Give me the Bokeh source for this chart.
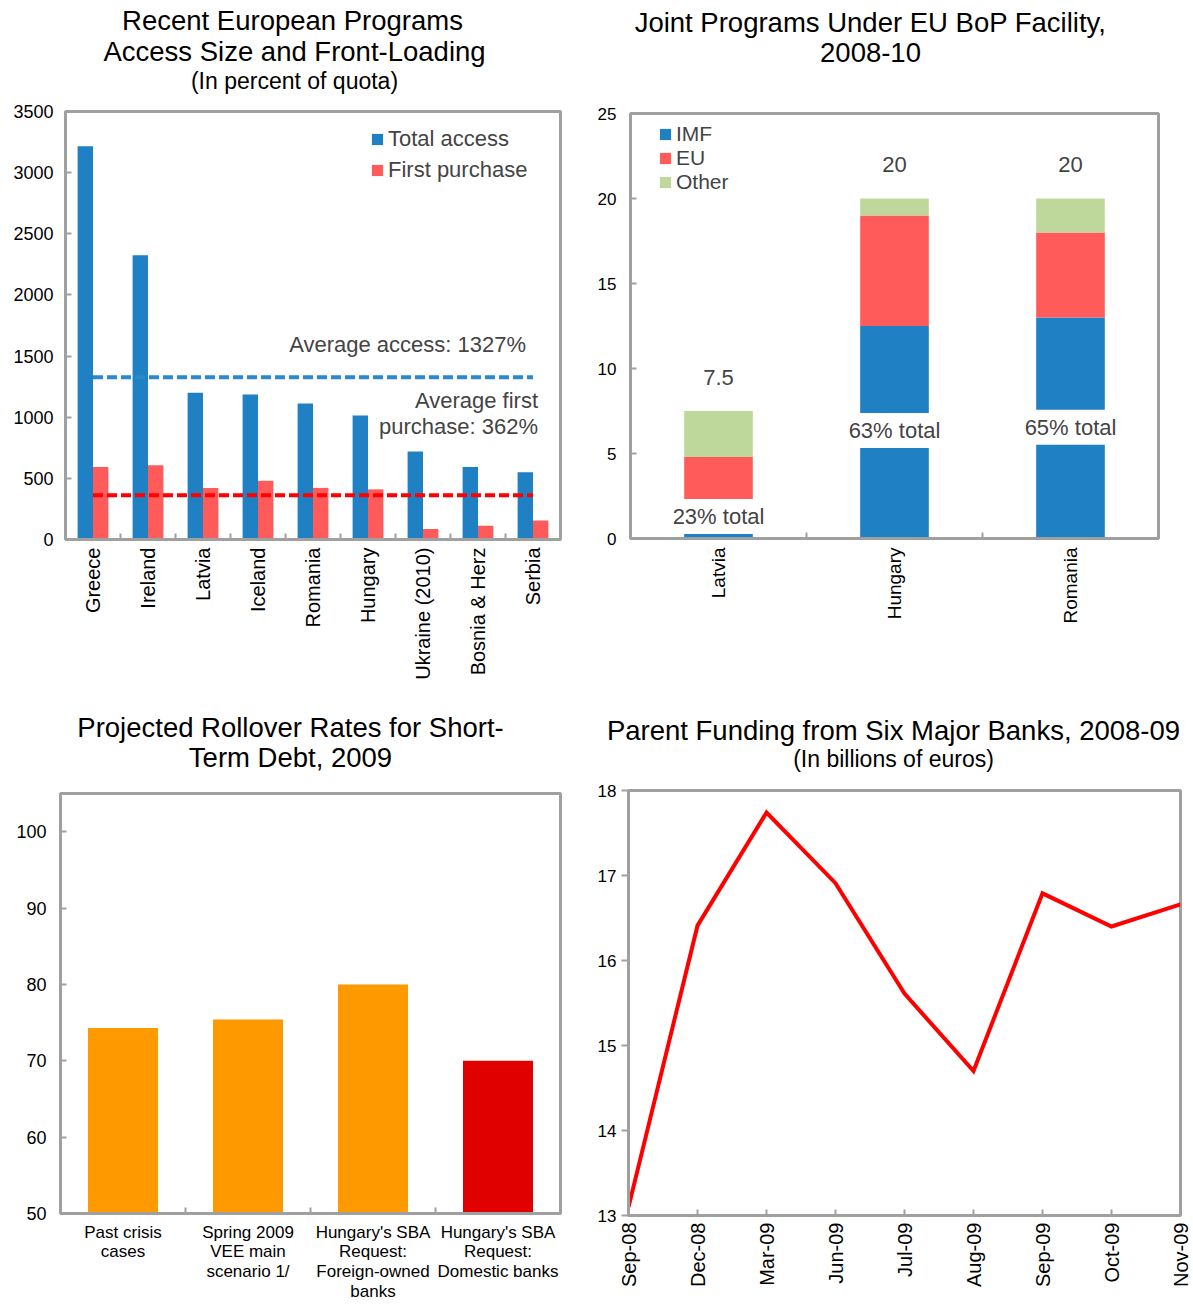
import math
import numpy as np
from bokeh.plotting import figure
from bokeh.models import (Range1d, FixedTicker, Label, LabelSet, Legend, LegendItem,
                          ColumnDataSource)
from bokeh.core.properties import value
from bokeh.transform import dodge
from bokeh.layouts import row, column
from bokeh.embed import file_html
from bokeh.resources import INLINE

# ---------------- data ----------------
# Chart 1: Recent European Programs (percent of quota)
c1_countries = ["Greece", "Ireland", "Latvia", "Iceland", "Romania", "Hungary",
                "Ukraine (2010)", "Bosnia & Herz", "Serbia"]
c1_total = [3215, 2325, 1200, 1185, 1112, 1015, 720, 593, 550]
c1_first = [592, 607, 422, 480, 422, 410, 85, 112, 155]
c1_avg_total = 1327
c1_avg_first = 362
c1_yticks = [0, 500, 1000, 1500, 2000, 2500, 3000, 3500]

# Chart 2: Joint programs under EU BoP facility (billions of euros)
c2_countries = ["Latvia", "Hungary", "Romania"]
c2_imf = [1.7, 12.5, 13.0]
c2_eu = [3.1, 6.5, 5.0]
c2_other = [2.7, 1.0, 2.0]
c2_total_labels = ["7.5", "20", "20"]
c2_share_labels = ["23% total", "63% total", "65% total"]
c2_yticks = [0, 5, 10, 15, 20, 25]

# Chart 3: Projected rollover rates
c3_categories = ["Past crisis\ncases", "Spring 2009\nVEE main\nscenario 1/",
                 "Hungary's SBA\nRequest:\nForeign-owned\nbanks",
                 "Hungary's SBA\nRequest:\nDomestic banks"]
c3_values = [74.3, 75.4, 80.0, 70.0]
c3_yticks = [50, 60, 70, 80, 90, 100]

# Chart 4: Parent funding from six major banks (billions of euros)
c4_months = ["Sep-08", "Dec-08", "Mar-09", "Jun-09", "Jul-09", "Aug-09",
             "Sep-09", "Oct-09", "Nov-09"]
c4_values = [13.1, 16.41, 17.74, 16.91, 15.61, 14.70, 16.79, 16.40, 16.66]
c4_yticks = [13, 14, 15, 16, 17, 18]

# ---------------- styles ----------------
FONT = "Liberation Sans"
BLUE = "#1F80C3"
PINK = "#FF5B5B"
GREEN = "#BDD89A"
ORANGE = "#FF9900"
DARKRED = "#E00000"
GRAY = "#A0A0A0"
TITLE_SIZE = "27.5px"
SUB_SIZE = "23px"


def base_fig(w, h, left, right, top, bottom, xr, yr):
    p = figure(width=w, height=h, x_range=xr, y_range=yr,
               min_border_left=left, min_border_right=right,
               min_border_top=top, min_border_bottom=bottom,
               output_backend="svg", toolbar_location=None, title=None,
               frame_align=False)
    p.outline_line_color = GRAY
    p.outline_line_width = 3
    p.xgrid.visible = False
    p.ygrid.visible = False
    p.background_fill_color = "white"
    p.border_fill_color = "white"
    for ax in (p.xaxis[0], p.yaxis[0]):
        ax.axis_line_color = GRAY
        ax.axis_line_width = 3
        ax.major_tick_line_color = GRAY
        ax.major_tick_line_width = 2
        ax.minor_tick_line_color = GRAY
        ax.minor_tick_line_width = 2
        ax.minor_tick_out = 0
        ax.major_label_text_font = FONT
        ax.major_label_text_color = "black"
    return p


def title_fig(w, h, lines):
    """A bare canvas in pixel units holding the title lines."""
    t = figure(width=w, height=h, x_range=Range1d(0, w), y_range=Range1d(h, 0),
               x_axis_type=None, y_axis_type=None, min_border=0,
               output_backend="svg", toolbar_location=None, title=None,
               frame_align=False)
    t.outline_line_color = None
    t.xgrid.visible = False
    t.ygrid.visible = False
    for text, x, y, size in lines:
        t.add_layout(Label(x=x, y=y, text=text, text_align="center",
                           text_baseline="middle", text_font=FONT,
                           text_font_size=size, text_color="black"))
    return t


# ---------------- chart 1 ----------------
n1 = len(c1_countries)
x1 = np.arange(n1) + 0.5
src1 = ColumnDataSource(dict(x=x1, total=c1_total, first=c1_first))
p1 = base_fig(593, 605, 65, 33, 16, 161, Range1d(0, n1), Range1d(0, 3500))
r1a = p1.vbar(x=dodge("x", -0.14), top="total", width=0.28, source=src1,
              fill_color=BLUE, line_color=None)
r1b = p1.vbar(x=dodge("x", 0.14), top="first", width=0.28, source=src1,
              fill_color=PINK, line_color=None)
p1.line(x=[x1[0], x1[-1]], y=[c1_avg_total, c1_avg_total], line_color="#2A88CC",
        line_width=4, line_dash="10 4")
p1.line(x=[x1[0], x1[-1]], y=[c1_avg_first, c1_avg_first], line_color="#FF0000",
        line_width=4, line_dash="10 4")
p1.add_layout(Label(x=x1[-1], y=c1_avg_total, x_offset=-7, y_offset=33,
                    text=f"Average access: {c1_avg_total}%", text_align="right",
                    text_baseline="middle", text_font=FONT, text_font_size="22px"))
p1.add_layout(Label(x=x1[-1], y=c1_avg_first, x_offset=5, y_offset=95,
                    text="Average first", text_align="right",
                    text_baseline="middle", text_font=FONT, text_font_size="22px"))
p1.add_layout(Label(x=x1[-1], y=c1_avg_first, x_offset=5, y_offset=69,
                    text=f"purchase: {c1_avg_first}%", text_align="right",
                    text_baseline="middle", text_font=FONT, text_font_size="22px"))
p1.xaxis.ticker = FixedTicker(ticks=list(x1), minor_ticks=list(range(1, n1)))
p1.xaxis.major_label_overrides = {float(v): c for v, c in zip(x1, c1_countries)}
p1.xaxis.major_tick_line_color = None
p1.xaxis.major_tick_in = 0
p1.xaxis.major_tick_out = 0
p1.xaxis.minor_tick_in = 6
p1.xaxis.major_label_orientation = math.pi / 2
p1.xaxis.major_label_text_font_size = "20px"
p1.xaxis.major_label_standoff = 8
p1.yaxis.ticker = FixedTicker(ticks=c1_yticks)
p1.yaxis.major_tick_in = 6
p1.yaxis.major_tick_out = 0
p1.yaxis.minor_tick_line_color = None
p1.yaxis.major_label_text_font_size = "18px"
p1.yaxis.major_label_standoff = 12
leg1 = Legend(items=[LegendItem(label="Total access", renderers=[r1a]),
                     LegendItem(label="First purchase", renderers=[r1b])],
              location=(305, 356), padding=0, margin=0, spacing=5,
              glyph_width=14, glyph_height=14, label_height=24, label_standoff=4,
              label_text_font=FONT, label_text_font_size="22px",
              background_fill_alpha=0, border_line_color=None)
p1.add_layout(leg1)
t1 = title_fig(593, 95, [("Recent European Programs", 292, 20, TITLE_SIZE),
                         ("Access Size and Front-Loading", 294, 51, TITLE_SIZE),
                         ("(In percent of quota)", 294, 80, SUB_SIZE)])

# ---------------- chart 2 ----------------
n2 = len(c2_countries)
x2 = np.arange(n2) + 0.5
tot2 = [a + b + c for a, b, c in zip(c2_imf, c2_eu, c2_other)]
src2 = ColumnDataSource(dict(x=x2, imf=c2_imf, eu=c2_eu, other=c2_other,
                             tot=tot2, tlab=c2_total_labels))
p2 = base_fig(600, 605, 37, 35, 18, 162, Range1d(0, n2), Range1d(0, 25))
rs2 = p2.vbar_stack(["imf", "eu", "other"], x="x", width=0.39, source=src2,
                    fill_color=[BLUE, PINK, GREEN], line_color=None)
p2.add_layout(LabelSet(x="x", y="tot", text="tlab", source=src2, y_offset=34,
                       text_align="center", text_baseline="middle",
                       text_font=value(FONT), text_font_size=value("22px")))
share_y = [1.3, 6.35, 6.55]
for xi, yi, t in zip(x2, share_y, c2_share_labels):
    p2.add_layout(Label(x=xi, y=yi, text=t, text_align="center",
                        text_baseline="middle", text_font=FONT, text_font_size="22px",
                        background_fill_color="white", padding=5))
p2.xaxis.ticker = FixedTicker(ticks=list(x2), minor_ticks=list(range(1, n2)))
p2.xaxis.major_label_overrides = {float(v): c for v, c in zip(x2, c2_countries)}
p2.xaxis.major_tick_line_color = None
p2.xaxis.major_tick_in = 0
p2.xaxis.major_tick_out = 0
p2.xaxis.minor_tick_in = 6
p2.xaxis.major_label_orientation = math.pi / 2
p2.xaxis.major_label_text_font_size = "19px"
p2.xaxis.major_label_standoff = 9
p2.yaxis.ticker = FixedTicker(ticks=c2_yticks)
p2.yaxis.major_tick_in = 6
p2.yaxis.major_tick_out = 0
p2.yaxis.minor_tick_line_color = None
p2.yaxis.major_label_text_font_size = "17px"
p2.yaxis.major_label_standoff = 14
leg2 = Legend(items=[LegendItem(label="IMF", renderers=[rs2[0]]),
                     LegendItem(label="EU", renderers=[rs2[1]]),
                     LegendItem(label="Other", renderers=[rs2[2]])],
              location=(28, 344), padding=0, margin=0, spacing=0,
              glyph_width=14, glyph_height=14, label_height=22, label_standoff=4,
              label_text_font=FONT, label_text_font_size="21px",
              background_fill_alpha=0, border_line_color=None)
p2.add_layout(leg2)
t2 = title_fig(600, 95, [("Joint Programs Under EU BoP Facility,", 277, 22, TITLE_SIZE),
                         ("2008-10", 277, 52, TITLE_SIZE)])

# ---------------- chart 3 ----------------
n3 = len(c3_categories)
x3 = np.arange(n3) + 0.5
src3 = ColumnDataSource(dict(x=x3, v=c3_values,
                             c=[ORANGE] * (n3 - 1) + [DARKRED]))
p3 = base_fig(593, 519, 60, 33, 8, 91, Range1d(0, n3), Range1d(50, 105))
p3.vbar(x="x", top="v", bottom=50, width=0.56, source=src3, fill_color="c",
        line_color=None)
p3.xaxis.ticker = FixedTicker(ticks=list(x3), minor_ticks=list(range(1, n3)))
p3.xaxis.major_label_overrides = {float(v): c for v, c in zip(x3, c3_categories)}
p3.xaxis.major_tick_line_color = None
p3.xaxis.major_tick_in = 0
p3.xaxis.major_tick_out = 0
p3.xaxis.minor_tick_in = 6
p3.xaxis.major_label_text_font_size = "17px"
p3.xaxis.major_label_text_line_height = 1.05
p3.xaxis.major_label_standoff = 9
p3.yaxis.ticker = FixedTicker(ticks=c3_yticks)
p3.yaxis.major_tick_in = 6
p3.yaxis.major_tick_out = 0
p3.yaxis.minor_tick_line_color = None
p3.yaxis.major_label_text_font_size = "18px"
p3.yaxis.major_label_standoff = 14
t3 = title_fig(593, 85, [("Projected Rollover Rates for Short-", 290, 27, TITLE_SIZE),
                         ("Term Debt, 2009", 290, 57, TITLE_SIZE)])

# ---------------- chart 4 ----------------
n4 = len(c4_months)
x4 = np.arange(n4)
src4 = ColumnDataSource(dict(x=x4, v=c4_values))
p4 = base_fig(600, 529, 35, 13, 15, 89, Range1d(0, n4 - 1), Range1d(13, 18))
p4.line(x="x", y="v", source=src4, line_color="#FF0000", line_width=4,
        line_join="miter")
p4.xaxis.ticker = FixedTicker(ticks=list(x4))
p4.xaxis.major_label_overrides = {int(v): m for v, m in zip(x4, c4_months)}
p4.xaxis.major_tick_in = 6
p4.xaxis.major_tick_out = 0
p4.xaxis.minor_tick_line_color = None
p4.xaxis.major_label_orientation = math.pi / 2
p4.xaxis.major_label_text_font_size = "20px"
p4.xaxis.major_label_standoff = 7
p4.yaxis.ticker = FixedTicker(ticks=c4_yticks)
p4.yaxis.major_tick_in = 0
p4.yaxis.major_tick_out = 7
p4.yaxis.minor_tick_line_color = None
p4.yaxis.major_label_text_font_size = "17px"
p4.yaxis.major_label_standoff = 5
t4 = title_fig(600, 75, [("Parent Funding from Six Major Banks, 2008-09", 300, 30, TITLE_SIZE),
                         ("(In billions of euros)", 300, 58, SUB_SIZE)])

layout = column(row(column(t1, p1), column(t2, p2)),
                row(column(t3, p3), column(t4, p4)))
open("out.html", "w").write(file_html(layout, INLINE))
